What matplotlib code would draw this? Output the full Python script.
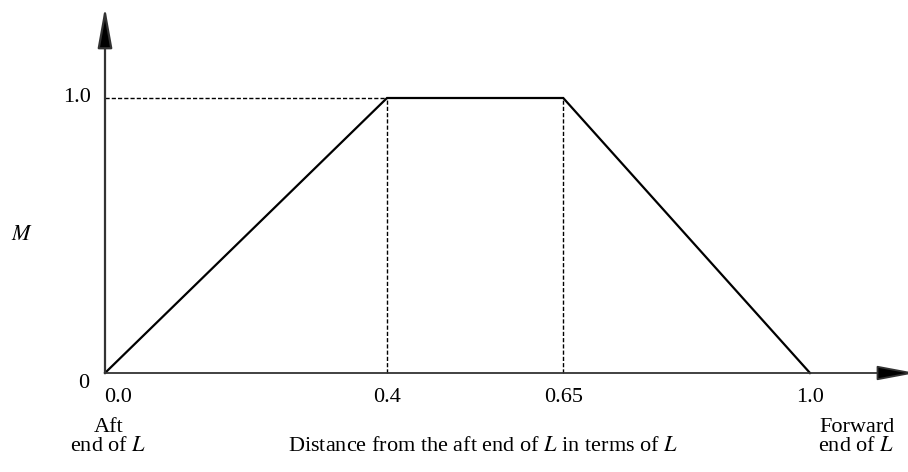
import matplotlib
matplotlib.use('Agg')
import matplotlib.pyplot as plt

# trapezoid distribution of M along the length
x_pts = [0.0, 0.4, 0.65, 1.0]
m_pts = [0.0, 1.0, 1.0, 0.0]
x_ticks = [0.0, 0.4, 0.65, 1.0]
x_tick_labels = ['0.0', '0.4', '0.65', '1.0']

plt.rcParams['font.family'] = ['Liberation Serif', 'DejaVu Serif']
plt.rcParams['mathtext.fontset'] = 'stix'
fs = 16

fig = plt.figure(figsize=(9.08, 4.72), dpi=100)
ax = fig.add_axes([0, 0, 1, 1])
ax.set_xlim(-105 / 705, 803 / 705)
ax.set_ylim(-99 / 275, 373 / 275)
ax.axis('off')

axcol = '#333333'
# axes with arrows
ax.annotate('', xy=(0, 1.33), xytext=(0, 0), annotation_clip=False,
            arrowprops=dict(arrowstyle='-|>,head_length=2.5,head_width=0.45',
                            lw=1.6, color=axcol, fc='black', shrinkA=0, shrinkB=0,
                            mutation_scale=10))
ax.annotate('', xy=(1.15, 0), xytext=(0, 0), annotation_clip=False,
            arrowprops=dict(arrowstyle='-|>,head_length=2.4,head_width=0.45',
                            lw=1.3, color=axcol, fc='black', shrinkA=0, shrinkB=0,
                            mutation_scale=10))

# dashed guides
ax.plot([0, x_pts[1]], [1, 1], color='black', lw=1, ls=(0, (3, 1.5)))
for xv in x_pts[1:3]:
    ax.plot([xv, xv], [0, 1], color='black', lw=1, ls=(0, (3, 1.5)))

ax.plot(x_pts, m_pts, color='black', lw=1.6, solid_joinstyle='miter')

# tick labels
for xv, lab in zip(x_ticks, x_tick_labels):
    xoff = 0.018 if xv == 0 else 0
    ax.text(xv + xoff, -0.09, lab, ha='center', va='center', fontsize=fs)
ax.text(-0.03, -0.04, '0', ha='center', va='center', fontsize=fs)
ax.text(-0.04, 1.0, '1.0', ha='center', va='center', fontsize=fs)
ax.text(-0.118, 0.5, '$M$', ha='center', va='center', fontsize=fs)

ax.text(0.005, -0.2, 'Aft', ha='center', va='center', fontsize=fs)
ax.text(0.005, -0.269, 'end of $L$', ha='center', va='center', fontsize=fs)
ax.text(1.066, -0.2, 'Forward', ha='center', va='center', fontsize=fs)
ax.text(1.066, -0.269, 'end of $L$', ha='center', va='center', fontsize=fs)
ax.text(0.536, -0.269, 'Distance from the aft end of $L$ in terms of $L$',
        ha='center', va='center', fontsize=fs)

fig.savefig('out.png', dpi=100)
